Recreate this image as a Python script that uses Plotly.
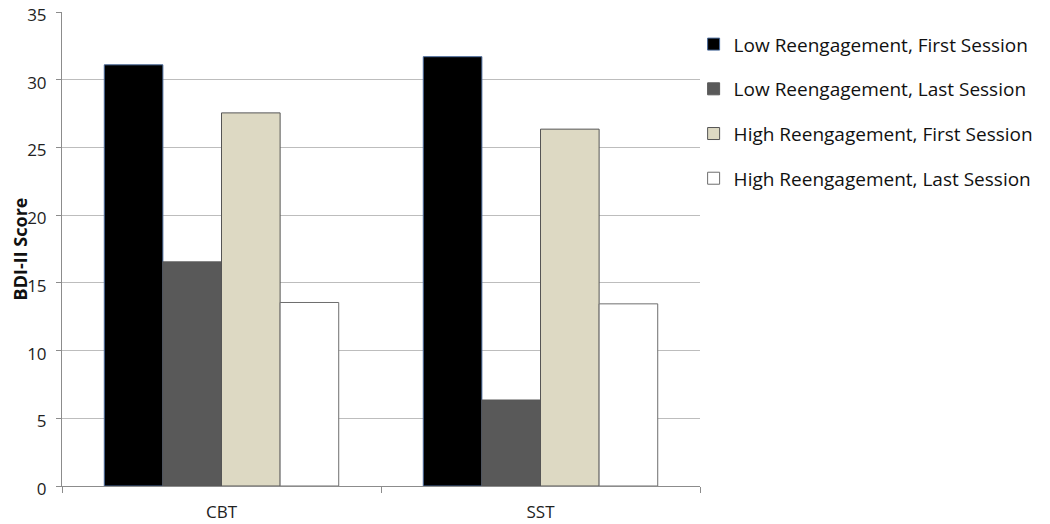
import plotly.graph_objects as go

categories = ["CBT", "SST"]
series_names = [
    "Low Reengagement, First Session",
    "Low Reengagement, Last Session",
    "High Reengagement, First Session",
    "High Reengagement, Last Session",
]
low_first = [31.1, 31.7]
low_last = [16.55, 6.35]
high_first = [27.55, 26.35]
high_last = [13.55, 13.45]
y_ticks = [0, 5, 10, 15, 20, 25, 30, 35]

fills = ["#000000", "#595959", "#DDD9C3", "#FFFFFF"]
outlines = ["#4A6A9A", "#595959", "#555555", "#6E6E6E"]

fig = go.Figure()
for i, (name, vals) in enumerate(zip(series_names, [low_first, low_last, high_first, high_last])):
    fig.add_trace(go.Bar(
        x=categories, y=vals, name=name,
        marker=dict(color=fills[i], line=dict(color=outlines[i], width=1)),
        legendgroup=f"g{i}",
    ))

font_family = "Open Sans, Liberation Sans, sans-serif"
# page body has an 8px default margin, so the figure is sized 1042x516
fig.update_layout(
    width=1042, height=516,
    barmode="group", bargap=0.265, bargroupgap=0,
    plot_bgcolor="white", paper_bgcolor="white",
    margin=dict(l=54, r=350, t=4, b=38, autoexpand=False),
    font=dict(family=font_family, size=16, color="#222222"),
    showlegend=True,
    legend=dict(
        x=0.99, y=0.972, xanchor="left", yanchor="top",
        font=dict(size=19, color="#111111"),
        tracegroupgap=17, traceorder="grouped",
        itemwidth=30, bgcolor="rgba(0,0,0,0)",
    ),
    xaxis=dict(
        automargin=False,
        showline=True, linecolor="#8C8C8C", linewidth=1,
        ticks="outside", tickson="boundaries", ticklen=6, tickcolor="#8C8C8C",
        tickfont=dict(size=17, color="#222222"),
        ticklabelstandoff=11,
        showgrid=False,
    ),
    yaxis=dict(
        automargin=False,
        range=[0, 35], tickvals=y_ticks,
        showline=True, linecolor="#8C8C8C", linewidth=1,
        ticks="outside", ticklen=5, tickcolor="#8C8C8C",
        gridcolor="#BDBDBD", gridwidth=1,
        tickfont=dict(size=17, color="#222222"),
        ticklabelstandoff=6, ticklabelshift=3, ticklabeloverflow="allow",
        title=dict(text="<b>BDI-II Score</b>", font=dict(size=18, color="#111111"), standoff=10),
        zeroline=False,
    ),
)
fig.write_html("out.html")
